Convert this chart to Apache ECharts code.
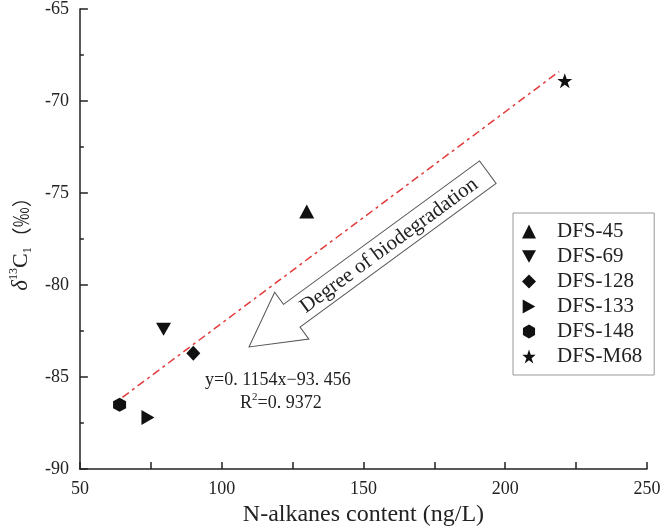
<!DOCTYPE html>
<html>
<head>
<meta charset="utf-8">
<script src="https://cdn.jsdelivr.net/npm/echarts@6/dist/echarts.min.js"></script>
<style>html,body{margin:0;padding:0;background:#fff}#c{width:666px;height:532px}</style>
</head>
<body>
<div id="c"></div>
<script>
// ---- data ----
var sampleNames = ['DFS-45', 'DFS-69', 'DFS-128', 'DFS-133', 'DFS-148', 'DFS-M68'];
var nAlkanes   = [130, 79.5, 90, 74, 64, 221];               // ng/L
var delta13C1  = [-76.0, -82.4, -83.7, -87.2, -86.5, -68.9];  // permil
var fitX = [65, 219];
var fitY = [-86.1, -68.4];
var xTicks = [50, 250, 50];   // min, max, step
var yTicks = [-90, -65, 5];
var equationText = 'y=0. 1154x\u221293. 456';
var r2Text = '{r|R}{s|2}{r|=0. 9372}';
var arrowText = 'Degree of biodegradation';

var FONT = '"Liberation Serif","Times New Roman",serif';
var symbols = [
  'triangle',
  'path://M0,0L10,0L5,9Z',
  'diamond',
  'path://M0,0L9,5L0,10Z',
  'path://M5,0L9.33,2.5L9.33,7.5L5,10L0.67,7.5L0.67,2.5Z',
  'path://M5,0L6.18,3.62L9.51,3.62L6.76,5.86L7.94,9.51L5,7.27L2.06,9.51L3.24,5.86L0.49,3.62L3.82,3.62Z'
];
var sizes = [[15,14],[15,13],[14,15],[13,15],[13,14],[15,15]];

var series = sampleNames.map(function (n, i) {
  return {
    name: n, type: 'scatter', symbol: symbols[i], symbolSize: sizes[i],
    itemStyle: { color: '#111', opacity: 1 },
    data: [[nAlkanes[i], delta13C1[i]]], z: 5
  };
});
series.push({
  name: 'fit', type: 'line', symbol: 'none', silent: true,
  data: fitX.map(function (x, i) { return [x, fitY[i]]; }),
  lineStyle: { color: '#e23b3b', width: 1.5, type: [8, 4, 3, 4] }, z: 3
});

var chart = echarts.init(document.getElementById('c'), null, { renderer: 'canvas' });
var axisCommon = {
  axisLine: { show: true, lineStyle: { color: '#222', width: 1.5 } },
  axisTick: { show: true, inside: true, length: 8, lineStyle: { color: '#222', width: 1.5 } },
  minorTick: { show: true, splitNumber: 2, length: 4, lineStyle: { color: '#222', width: 1.5 } },
  splitLine: { show: false },
  axisLabel: { fontFamily: FONT, fontSize: 18, color: '#222' }
};
chart.setOption({
  animation: false,
  grid: { left: 73, right: 19, top: 7, bottom: 60, containLabel: false },
  xAxis: Object.assign({}, axisCommon, {
    type: 'value', min: xTicks[0], max: xTicks[1], interval: xTicks[2],
    name: 'N-alkanes content (ng/L)', nameLocation: 'middle', nameGap: 33,
    nameTextStyle: { fontFamily: FONT, fontSize: 24, color: '#222' },
    axisTick: { show: true, inside: true, length: 7, lineStyle: { color: '#222', width: 1.5 } },
    minorTick: { show: true, splitNumber: 2, length: 7, lineStyle: { color: '#222', width: 1.5 } },
    axisLabel: { fontFamily: FONT, fontSize: 18, color: '#222', margin: 11 }
  }),
  yAxis: Object.assign({}, axisCommon, {
    type: 'value', min: yTicks[0], max: yTicks[1], interval: yTicks[2],
    name: '{d|\u03b4}{sup|13}{c|C}{sub|1}{p|\uff08\u2030\uff09}', nameLocation: 'middle', nameGap: 34, nameRotate: 90,
    nameTextStyle: {
      fontFamily: FONT, fontSize: 22, color: '#222',
      rich: {
        d: { fontFamily: FONT, fontSize: 23, fontStyle: 'italic', color: '#222', lineHeight: 26, verticalAlign: 'middle' },
        c: { fontFamily: FONT, fontSize: 22, color: '#222', lineHeight: 26, verticalAlign: 'middle' },
        p: { fontFamily: '"Noto Sans CJK SC",' + FONT, fontSize: 20, color: '#222', lineHeight: 26, verticalAlign: 'middle' },
        sup: { fontFamily: FONT, fontSize: 12, color: '#222', lineHeight: 26, verticalAlign: 'top' },
        sub: { fontFamily: FONT, fontSize: 12, color: '#222', lineHeight: 26, verticalAlign: 'bottom' }
      }
    },
    axisLabel: { fontFamily: FONT, fontSize: 18, color: '#222', margin: 11 }
  }),
  legend: {
    orient: 'vertical', left: 513, top: 213, padding: [8, 12, 8, 9],
    itemWidth: 14, itemHeight: 14, itemGap: 4,
    borderColor: '#999', borderWidth: 1,
    textStyle: { fontFamily: FONT, fontSize: 21, color: '#222', lineHeight: 20, padding: [0, 0, 0, 16] },
    data: sampleNames
  },
  series: series,
  graphic: [
    {
      type: 'group', x: 249, y: 347, rotation: 0.632, z: 10,
      children: [
        { type: 'polygon', shape: { points: [[0,0],[53,-29],[53,-14],[296,-14],[296,14],[53,14],[53,29]] },
          style: { fill: '#fff', stroke: '#555', lineWidth: 1 } },
        { type: 'text', x: 173, y: 1, style: { text: arrowText, font: '21px ' + FONT, fill: '#222', textAlign: 'center', textVerticalAlign: 'middle' } }
      ]
    },
    { type: 'text', left: 205, top: 371, style: { text: equationText, font: '18px ' + FONT, fill: '#222' } },
    { type: 'text', left: 240, top: 392, style: { text: r2Text, fill: '#222',
        rich: { r: { font: '18px ' + FONT, fill: '#222', lineHeight: 20, verticalAlign: 'bottom' },
                s: { font: '11px ' + FONT, fill: '#222', lineHeight: 20, verticalAlign: 'top' } } } }
  ]
});
</script>
</body>
</html>
